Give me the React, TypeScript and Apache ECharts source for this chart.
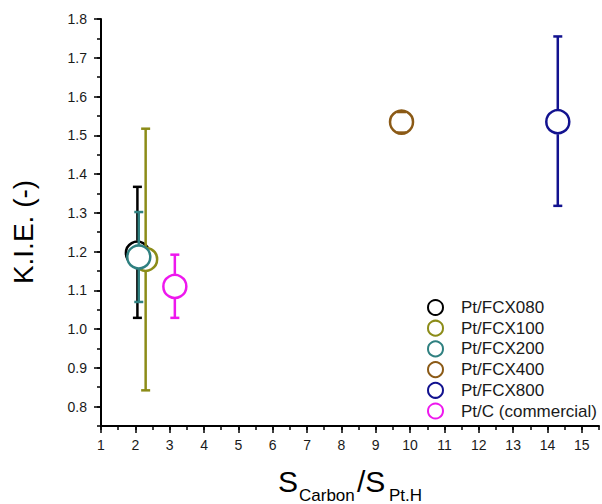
import React, { useEffect, useRef } from "react";
import * as echarts from "echarts";

const names = ["Pt/FCX080", "Pt/FCX100", "Pt/FCX200", "Pt/FCX400", "Pt/FCX800", "Pt/C (commercial)"];
const xValues = [2.06, 2.3, 2.1, 9.75, 14.3, 3.15];
const yValues = [1.196, 1.18, 1.186, 1.534, 1.535, 1.11];
const yLow = [1.029, 0.842, 1.07, 1.507, 1.318, 1.029];
const yHigh = [1.367, 1.517, 1.302, 1.56, 1.755, 1.192];
const colors = ["#000000", "#8c8c18", "#2f8080", "#8b5a16", "#12128f", "#ee18ee"];

const FONT = 'Arial, "Liberation Sans", sans-serif';
const SYMBOL_SIZE = 23;

export default function App() {
  const ref = useRef<HTMLDivElement>(null);
  useEffect(() => {
    if (!ref.current) return;
    const chart = echarts.init(ref.current, undefined, { renderer: "svg" });
    const series: any[] = [];
    names.forEach((n, i) => {
      const c = colors[i];
      series.push({
        type: "scatter",
        name: n,
        xAxisIndex: 0,
        yAxisIndex: 0,
        symbol: "circle",
        symbolSize: SYMBOL_SIZE,
        z: 2 + i * 2,
        itemStyle: { color: "#ffffff", borderColor: c, borderWidth: 2.5, opacity: 1 },
        data: [[xValues[i], yValues[i]]],
      });
      series.push({
        type: "custom",
        name: "err" + i,
        xAxisIndex: 0,
        yAxisIndex: 0,
        data: [[xValues[i], yLow[i], yHigh[i], yValues[i]]],
        encode: { x: 0, y: [1, 2] },
        z: 3 + i * 2,
        renderItem: (params: any, api: any) => {
          const x = api.value(0);
          const pLo = api.coord([x, api.value(1)]);
          const pHi = api.coord([x, api.value(2)]);
          const pC = api.coord([x, api.value(3)]);
          const r = SYMBOL_SIZE / 2 + 1;
          const cap = 4.5;
          const st = { stroke: c, lineWidth: 2.5 };
          const children: any[] = [
            { type: "line", shape: { x1: pLo[0] - cap, y1: pLo[1], x2: pLo[0] + cap, y2: pLo[1] }, style: st },
            { type: "line", shape: { x1: pHi[0] - cap, y1: pHi[1], x2: pHi[0] + cap, y2: pHi[1] }, style: st },
          ];
          if (pHi[1] < pC[1] - r) {
            children.push({ type: "line", shape: { x1: pHi[0], y1: pHi[1], x2: pHi[0], y2: pC[1] - r }, style: st });
          }
          if (pLo[1] > pC[1] + r) {
            children.push({ type: "line", shape: { x1: pLo[0], y1: pC[1] + r, x2: pLo[0], y2: pLo[1] }, style: st });
          }
          return { type: "group", children };
        },
      });
    });

    const axisCommon = {
      type: "value",
      splitLine: { show: false },
    };

    chart.setOption({
      animation: false,
      backgroundColor: "#ffffff",
      grid: { left: 101, right: 3, top: 19, bottom: 78, containLabel: false },
      xAxis: [
        {
          ...axisCommon,
          min: 1,
          max: 15.5,
          interval: 1,
          position: "bottom",
          axisLine: { show: true, onZero: false, lineStyle: { color: "#000", width: 2 } },
          axisTick: { show: true, inside: false, length: 7, lineStyle: { color: "#000", width: 1.5 } },
          axisLabel: { show: true, margin: 12, fontSize: 14, color: "#1a1a1a", fontFamily: FONT, showMaxLabel: false },
        },
        {
          ...axisCommon,
          min: 1,
          max: 15.5,
          interval: 0.5,
          position: "bottom",
          axisLine: { show: false, onZero: false },
          axisTick: { show: true, inside: false, length: 4, lineStyle: { color: "#000", width: 1.5 } },
          axisLabel: { show: false },
        },
      ],
      yAxis: [
        {
          ...axisCommon,
          min: 0.75,
          max: 1.8,
          splitNumber: 10,
          minInterval: 0.1,
          maxInterval: 0.1,
          position: "left",
          axisLine: { show: true, onZero: false, lineStyle: { color: "#000", width: 2 } },
          axisTick: { show: true, inside: false, length: 7, lineStyle: { color: "#000", width: 1.5 } },
          axisLabel: {
            show: true,
            margin: 14,
            fontSize: 14,
            color: "#1a1a1a",
            fontFamily: FONT,
            showMinLabel: false,
            formatter: (v: number) => v.toFixed(1),
          },
        },
        {
          ...axisCommon,
          min: 0.75,
          max: 1.8,
          interval: 0.05,
          position: "left",
          axisLine: { show: false, onZero: false },
          axisTick: { show: true, inside: false, length: 4, lineStyle: { color: "#000", width: 1.5 } },
          axisLabel: { show: false },
        },
      ],
      legend: {
        orient: "vertical",
        left: 427,
        top: 299,
        itemWidth: 15,
        itemHeight: 15,
        itemGap: 3.7,
        padding: 0,
        data: names.map((n, i) => ({
          name: n,
          icon: "circle",
          itemStyle: { color: "#ffffff", borderColor: colors[i], borderWidth: 2 },
        })),
        formatter: (n: string) => "{a|" + n + "}",
        textStyle: {
          fontSize: 17,
          lineHeight: 15,
          color: "#1a1a1a",
          fontFamily: FONT,
          rich: { a: { fontSize: 17, lineHeight: 15, color: "#1a1a1a", fontFamily: FONT, padding: [0, 0, 0, 13] } },
        },
      },
      graphic: [
        {
          type: "text",
          x: 23,
          y: 232,
          rotation: Math.PI / 2,
          style: { text: "K.I.E. (-)", font: "28px " + FONT, fill: "#000", align: "center", verticalAlign: "middle" },
        },
        { type: "text", x: 278, y: 481, style: { text: "S", font: "30px " + FONT, fill: "#000", align: "left", verticalAlign: "middle" } },
        { type: "text", x: 299, y: 495, style: { text: "Carbon", font: "17px " + FONT, fill: "#000", align: "left", verticalAlign: "middle" } },
        { type: "text", x: 357, y: 481, style: { text: "/S", font: "30px " + FONT, fill: "#000", align: "left", verticalAlign: "middle" } },
        { type: "text", x: 389, y: 495, style: { text: "Pt.H", font: "17px " + FONT, fill: "#000", align: "left", verticalAlign: "middle" } },
      ],
      series,
    });
    return () => chart.dispose();
  }, []);
  return <div ref={ref} style={{ position: "fixed", left: 0, top: 0, width: 602, height: 504, background: "#fff" }} />;
}
